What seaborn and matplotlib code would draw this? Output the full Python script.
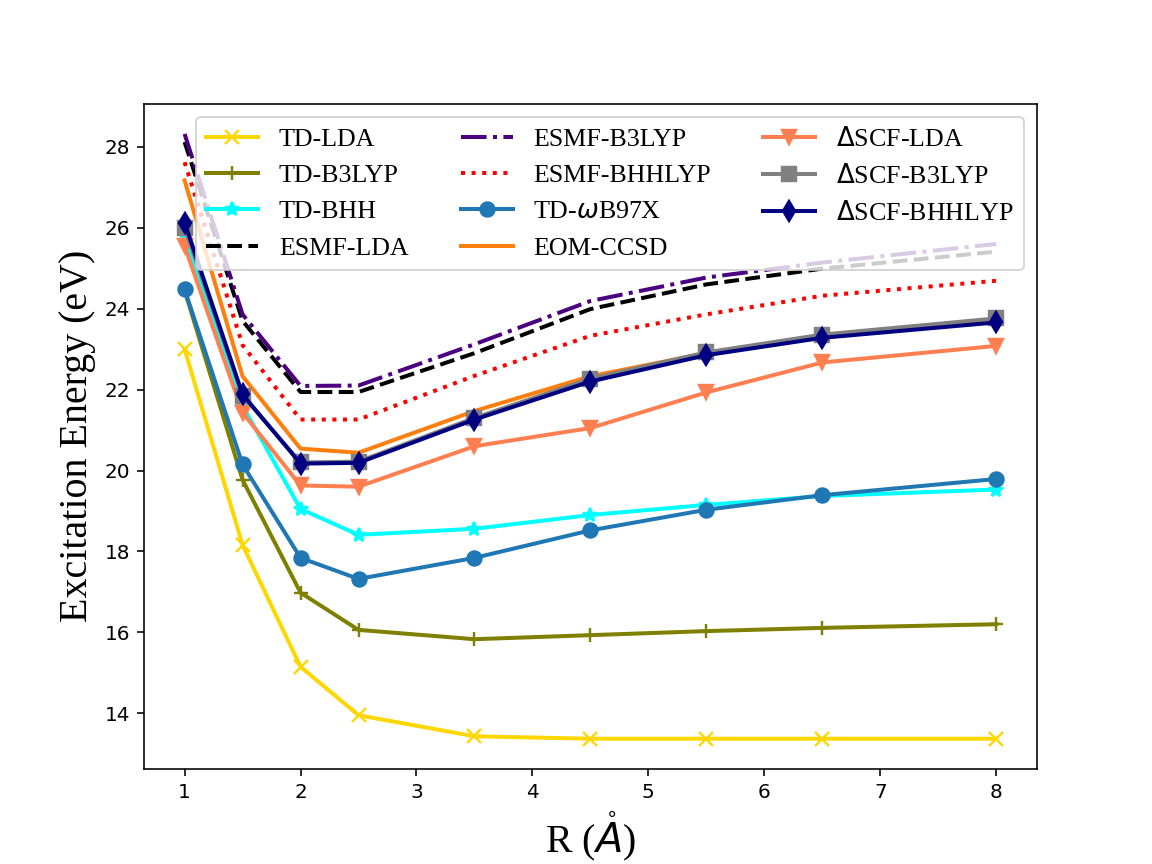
import numpy as np
import pandas as pd
import seaborn as sns
import matplotlib

matplotlib.use('Agg')
import matplotlib.pyplot as plt

# bond length R (Angstrom)
R = [1, 1.5, 2, 2.5, 3.5, 4.5, 5.5, 6.5, 8]

# excitation energies (eV)
td_lda = [23.0, 18.16, 15.15, 13.95, 13.43, 13.37, 13.37, 13.37, 13.37]
td_b3lyp = [24.45, 19.77, 16.98, 16.06, 15.83, 15.93, 16.03, 16.11, 16.2]
td_bhh = [25.8, 21.6, 19.05, 18.41, 18.56, 18.9, 19.15, 19.37, 19.53]
esmf_lda = [28.12, 23.7, 21.94, 21.94, 22.9, 23.99, 24.6, 24.99, 25.41]
esmf_b3lyp = [28.32, 23.86, 22.09, 22.1, 23.12, 24.19, 24.77, 25.14, 25.6]
esmf_bhhlyp = [27.62, 23.1, 21.26, 21.26, 22.34, 23.33, 23.86, 24.32, 24.69]
td_wb97x = [24.48, 20.15, 17.84, 17.32, 17.84, 18.52, 19.03, 19.39, 19.79]
eom_ccsd = [27.17, 22.33, 20.54, 20.44, 21.47, 22.33, 22.9, 23.33, 23.72]
dscf_lda = [25.55, 21.43, 19.63, 19.6, 20.6, 21.05, 21.93, 22.67, 23.08]
dscf_b3lyp = [26.0, 21.85, 20.2, 20.22, 21.3, 22.27, 22.92, 23.36, 23.76]
dscf_bhhlyp = [26.13, 21.88, 20.17, 20.19, 21.26, 22.2, 22.85, 23.28, 23.66]

# label, values, color, marker, linestyle
series = [
    ('TD-LDA', td_lda, 'gold', 'x', '-'),
    ('TD-B3LYP', td_b3lyp, 'olive', '+', '-'),
    ('TD-BHH', td_bhh, 'cyan', '*', '-'),
    ('ESMF-LDA', esmf_lda, 'black', None, '--'),
    ('ESMF-B3LYP', esmf_b3lyp, 'indigo', None, '-.'),
    ('ESMF-BHHLYP', esmf_bhhlyp, 'red', None, ':'),
    ('TD-$\\omega$B97X', td_wb97x, 'tab:blue', 'o', '-'),
    ('EOM-CCSD', eom_ccsd, 'tab:orange', None, '-'),
    ('$\\Delta$SCF-LDA', dscf_lda, 'coral', 'v', '-'),
    ('$\\Delta$SCF-B3LYP', dscf_b3lyp, 'gray', 's', '-'),
    ('$\\Delta$SCF-BHHLYP', dscf_bhhlyp, 'navy', 'd', '-'),
]

fig, ax = plt.subplots(figsize=(8, 6), dpi=144)

for label, vals, color, marker, ls in series:
    df = pd.DataFrame({'R': R, 'E': vals})
    sns.lineplot(data=df, x='R', y='E', ax=ax, color=color, marker=marker,
                 linestyle=ls, linewidth=2, markersize=7,
                 markeredgecolor=color, markeredgewidth=1.2, label=label)

serif = ['Liberation Serif', 'DejaVu Serif']
ax.set_xlabel('R ($\\mathring{A}$)', fontsize=20, family=serif)
ax.set_ylabel('Excitation Energy (eV)', fontsize=20, family=serif)

ax.legend(ncol=3, loc='upper right', prop={'family': serif, 'size': 13})

fig.savefig('out.png', dpi=144)
